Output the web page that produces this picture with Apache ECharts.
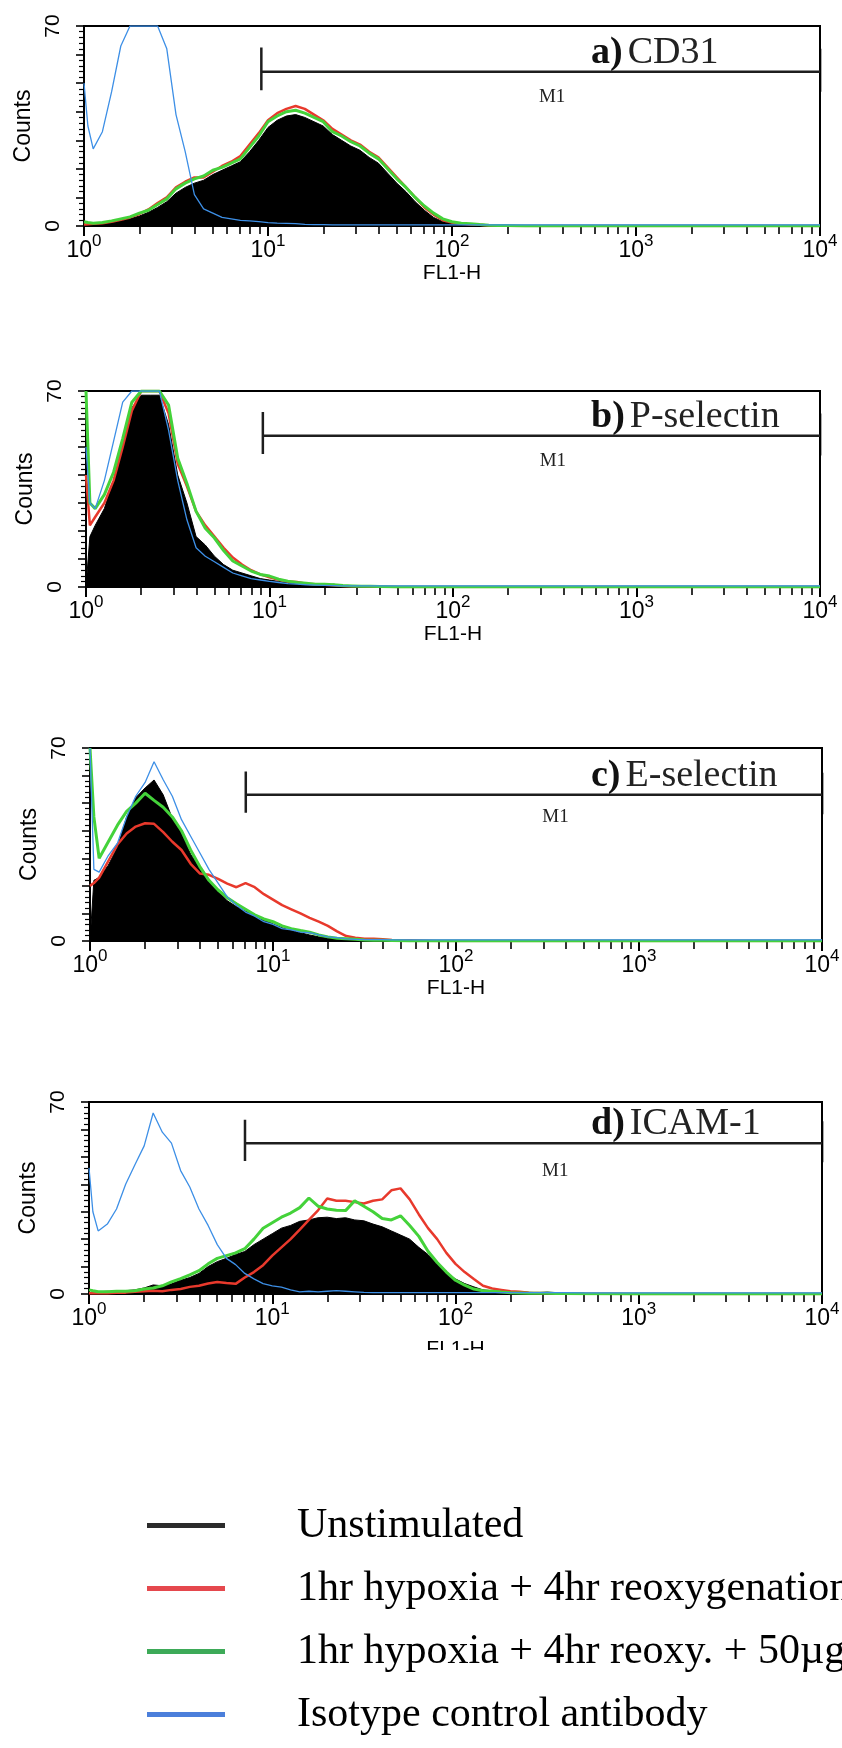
<!DOCTYPE html>
<html><head><meta charset="utf-8">
<script src="https://cdn.jsdelivr.net/npm/echarts@6/dist/echarts.min.js"></script>
<style>html,body{margin:0;padding:0;background:#fff;}#c{width:842px;height:1748px;}</style>
</head><body><div id="c"></div>
<script>
// ---------- DATA ----------
const bins = [1, 1.05, 1.122, 1.259, 1.413, 1.585, 1.778, 2, 2.239, 2.512,
  2.818, 3.162, 3.548, 3.981, 4.467, 5.012, 5.623, 6.31, 7.079, 7.943,
  8.913, 10, 11.22, 12.59, 14.13, 15.85, 17.78, 19.95, 22.39, 25.12,
  28.18, 31.62, 35.48, 39.81, 44.67, 50.12, 56.23, 63.1, 70.79, 79.43,
  89.13, 100, 112.2, 125.9, 141.3, 158.5, 177.8, 199.5, 223.9, 251.2,
  281.8, 316.2, 354.8, 398.1, 501.2, 1000, 3162, 10000];

const xTickValues = [1, 10, 100, 1000, 10000];
const xTickExponents = ['0', '1', '2', '3', '4'];
const xMinorTickValues = [2,3,4,5,6,7,8,9, 20,30,40,50,60,70,80,90, 200,300,400,500,600,700,800,900, 2000,3000,4000,5000,6000,7000,8000,9000];
const yTickLabels = [0, 70];

const seriesNames = ['Unstimulated', '1hr hypoxia + 4hr reoxygenation', '1hr hypoxia + 4hr reoxy. + 50µg', 'Isotype control antibody'];
const panelLetters = ['a)', 'b)', 'c)', 'd)'];
const panelMarkers = ['CD31', 'P-selectin', 'E-selectin', 'ICAM-1'];
const gateStart = [9.2, 9.2, 7.1, 7.1];
const gateEnd = 10000;
const gateEndBar = 10400;
const gateLevel = [54, 54, 53, 55];
const gateLabel = 'M1';
const gateLabelPos = [350, 45];

// Panel a) CD31
const aBlack = [0.3,0.4,0.5,0.8,1.2,1.8,2.5,3.5,4.8,6.5, 8.5,11.5,13.5,15,16,18,19.5,21,22.5,26, 30,34.5,37,38.5,39,38,36.5,35,32,30, 28,26.5,24,22,18.5,15,12,8.5,5.5,3, 1.5,1,0.6,0.4,0.3,0.2,0.2,0.1,0,0, 0,0,0,0,0,0,0,0];
const aRed   = [0.5,0.6,0.8,1,1.5,2.2,3,4.2,5.8,8, 10,13.5,15.5,17,17,19,21,22.5,24.5,28.5, 32.5,37,39.5,41,42,41,39,37,34,32, 30,28.5,26,24,20.5,17,13.5,10,6.5,4, 2,1.2,0.8,0.5,0.4,0.2,0.2,0.1,0,0, 0,0,0,0,0,0,0,0];
const aGreen = [1.5,1.2,1,1.2,1.8,2.5,3.2,4.5,5.5,7.5, 9.5,13,15,16.5,17.5,19.5,20.5,22,23.5,27.5, 31.5,36.5,38.5,40,40.5,39.5,38,36.5,33,31.5, 29.5,28,25.5,23.5,20,16.5,13.5,10,7,4.5, 2.5,1.5,1,0.8,0.5,0.3,0.2,0.2,0.1,0, 0,0,0,0,0,0,0,0];
const aBlue  = [50,35,27,33,47,63,70,70,70,70, 62,39,26,11,6,4.5,3,2.5,2,1.8, 1.5,1.2,1,0.9,0.8,0.6,0.5,0.5,0.4,0.4, 0.4,0.4,0.4,0.4,0.4,0.4,0.4,0.4,0.4,0.4, 0.4,0.4,0.4,0.4,0.4,0.4,0.4,0.4,0.4,0.4, 0.4,0.4,0.4,0.4,0.4,0.4,0.4,0.4];

// Panel b) P-selectin
const bBlack = [0,18,22,28,38,51,64,68.5,68.5,68.5, 58,40,30,18,15,11,8,6,5,4, 3,2.5,2,1.5,1.1,0.8,0.6,0.5,1,0.4, 0.3,0.2,0.1,0,0,0,0,0,0,0, 0,0,0,0,0,0,0,0,0,0, 0,0,0,0,0,0,0,0];
const bRed   = [40,22,25,30,38,50,63,70,70,70, 62,44,36,27,22,18,14,10.5,8,6, 4.5,3.5,2.6,2,1.8,1.2,1,0.8,0.6,0.4, 0.3,0.3,0.2,0.2,0.1,0,0,0,0,0, 0,0,0,0,0,0,0,0,0,0, 0,0,0,0,0,0,0,0];
const bGreen = [70,30,28,33,41,53,66,70,70,70, 65,46,37,27,21,17.5,13,9.3,7.5,5.7, 4.5,3.9,2.8,2.1,1.6,1.3,1,1,0.8,0.5, 0.4,0.3,0.3,0.2,0.1,0,0,0,0,0, 0,0,0,0,0,0,0,0,0,0, 0,0,0,0,0,0,0,0];
const bBlue  = [50,30,28,38,52,66,70,70,70,70, 56,38,24,14,11,9,7,5,4,3, 2.5,2,1.6,1.2,1,0.8,0.7,0.6,0.5,0.4, 0.4,0.4,0.4,0.4,0.4,0.4,0.4,0.4,0.4,0.4, 0.4,0.4,0.4,0.4,0.4,0.4,0.4,0.4,0.4,0.4, 0.4,0.4,0.4,0.4,0.4,0.4,0.4,0.4];

// Panel c) E-selectin
const cBlack = [0,22,23,27.5,34,45,52,55.5,58.4,53, 44.5,39,31.5,26.6,22,18,14.6,12.5,10.8,9.5, 7.8,6.2,4.8,3.8,3,2.2,1.5,1,0.8,0.5, 0.4,0.3,0.2,0.2,0.1,0,0,0,0,0, 0,0,0,0,0,0,0,0,0,0, 0,0,0,0,0,0,0,0];
const cRed   = [20,21,23,29,35,39,41.5,42.7,42.5,39.5, 36,33,28,24.5,24,22.5,20.8,19.5,21,19.5, 17,15,13,11.5,10,8.4,7,5.5,3.5,1.8, 1.2,0.8,0.8,0.6,0.4,0.3,0.3,0.2,0.1,0, 0,0,0,0,0,0,0,0,0,0, 0,0,0,0,0,0,0,0];
const cGreen = [70,45,30,36,42,47,50,53.6,51,48.5, 45,40,33,27,22,18.5,15.7,13.5,11.5,9.5, 8,7,5.5,4.5,3.8,3.2,2.2,1.5,1,0.8, 0.6,0.4,0.3,0.3,0.2,0.1,0,0,0,0, 0,0,0,0,0,0,0,0,0,0, 0,0,0,0,0,0,0,0];
const cBlue  = [70,26,25,31,35.5,45,52.5,57.5,65,58.5, 52.5,44,38,32,26,21,16,13,10.5,9, 7,6,4.5,4,3.2,3,2.2,1.5,1.2,0.8, 0.6,0.5,0.5,0.5,0.4,0.4,0.4,0.4,0.4,0.4, 0.4,0.4,0.4,0.4,0.4,0.4,0.4,0.4,0.4,0.4, 0.4,0.4,0.4,0.4,0.4,0.4,0.4,0.4];

// Panel d) ICAM-1
const dBlack = [0.5,0.6,0.8,1,0.8,1.2,1.5,2.2,3.3,3, 3.7,5,6,7.5,10,11.8,13,14.4,15.5,18, 20,22,24,25,26.5,27,27.8,28,27.5,27.8, 27,26.7,25.5,24.5,23,21.5,20,17,14.4,11, 7.5,5.5,3.8,2.6,1.5,1.2,1,0.8,0.8,0.6, 0.5,0.7,0.5,0.3,0.2,0,0,0];
const dRed   = [0.3,0.3,0.3,0.3,0.5,0.5,0.8,1,1.2,1, 1.5,1.8,2.6,3,3.8,4.4,4,3.7,6,8, 10.5,14,17,20,23.5,27,30.5,34.8,34,34, 33.5,33,34,34.5,37.8,38.5,34.5,29,24,20, 15,11,8,5.5,3,2,1.5,1,0.8,0.5, 0.4,0.3,0.3,0.3,0.2,0,0,0];
const dGreen = [1.5,1.2,0.8,0.8,1,1,1.2,1.8,2.2,3, 4.4,5.6,7,8.5,11,13,14,15,16.5,20, 24,26,28,29.5,31.5,35,32,31,30.5,30.4, 34,32,30,27.5,27,28.5,25,21,15.6,11.5, 8,5,3.2,1.8,1.2,1,0.7,0.5,0.4,0.3, 0.3,0.3,0.2,0.2,0.1,0,0,0];
const dBlue  = [46,30,23,25.5,31,40,47,54,66,59, 55,45,39,31,25,18,13,10.7,7.5,5.5, 3.8,3,2.5,1.5,0.8,1,0.8,1,1.2,1, 0.8,0.6,0.5,0.5,0.5,0.5,0.5,0.5,0.5,0.5, 0.5,0.5,0.5,0.5,0.5,0.5,0.5,0.5,0.5,0.5, 0.5,0.5,0.5,0.5,0.4,0.4,0.4,0.4];

const panelData = [
  [aBlack, aRed, aGreen, aBlue],
  [bBlack, bRed, bGreen, bBlue],
  [cBlack, cRed, cGreen, cBlue],
  [dBlack, dRed, dGreen, dBlue]
];

// ---------- LAYOUT / STYLE ----------
const layout = [
  {left: 84, right: 22, top: 26, height: 200, nameGap: 37},
  {left: 86, right: 22, top: 391, height: 196, nameGap: 37},
  {left: 90, right: 20, top: 748, height: 193, nameGap: 37},
  {left: 89, right: 20, top: 1102, height: 192, nameGap: 45}
];
const lineColors = ['#000000', '#e8392c', '#44d23a', '#3d8fe6'];
const lineWidths = [1, 2.5, 3, 1.3];
const legendColors = ['#2b2b2b', '#e5484d', '#3daa58', '#4b7fdb'];
const SANS = 'Liberation Sans, Arial, sans-serif';
const SERIF = 'Liberation Serif, Times New Roman, serif';

const grids = [], xAxes = [], yAxes = [], series = [], titles = [];

function gateSeries(i, data, extra) {
  return Object.assign({
    name: 'gate', type: 'line', xAxisIndex: 2 * i, yAxisIndex: i, data: data,
    symbol: 'none', silent: true, animation: false, clip: false, z: 10,
    lineStyle: {color: '#1e1e1e', width: 2.5}
  }, extra || {});
}

layout.forEach((L, i) => {
  grids.push({left: L.left, right: L.right, top: L.top, height: L.height,
    show: true, borderColor: '#000', borderWidth: 2, backgroundColor: 'transparent',
    containLabel: false, outerBoundsMode: 'none'});
  xAxes.push({
    gridIndex: i, type: 'log', logBase: 10, min: 1, max: 10000, position: 'bottom',
    axisLine: {show: true, lineStyle: {color: '#000', width: 2}},
    axisTick: {show: true, length: 10, lineStyle: {color: '#000', width: 2}, customValues: xTickValues},
    axisLabel: {
      customValues: xTickValues, margin: 7, color: '#000',
      formatter: (v) => '{b|10}{s|' + xTickExponents[xTickValues.indexOf(v)] + '}',
      rich: {
        b: {fontFamily: SANS, fontSize: 23, color: '#000', lineHeight: 29, verticalAlign: 'bottom'},
        s: {fontFamily: SANS, fontSize: 17, color: '#000', lineHeight: 16, verticalAlign: 'top'}
      }
    },
    splitLine: {show: false},
    name: 'FL1-H', nameLocation: 'middle', nameGap: L.nameGap,
    nameTextStyle: {fontFamily: SANS, fontSize: 21, color: '#000'}
  });
  xAxes.push({
    gridIndex: i, type: 'log', logBase: 10, min: 1, max: 10000, position: 'bottom', offset: 0,
    axisLine: {show: false},
    axisTick: {show: true, length: 8, lineStyle: {color: '#000', width: 1.6}, customValues: xMinorTickValues},
    axisLabel: {show: false}, splitLine: {show: false}
  });
  yAxes.push({
    gridIndex: i, type: 'value', min: 0, max: 70, interval: 10,
    axisLine: {show: true, lineStyle: {color: '#000', width: 2}},
    axisTick: {show: true, length: 8, lineStyle: {color: '#000', width: 1.6}},
    minorTick: {show: true, splitNumber: 5, length: 5, lineStyle: {color: '#000', width: 1.2}},
    axisLabel: {rotate: 90, margin: 20, color: '#000', fontFamily: SANS, fontSize: 21,
      formatter: (v) => yTickLabels.indexOf(v) >= 0 ? String(v) : ''},
    splitLine: {show: false},
    name: 'Counts', nameLocation: 'middle', nameGap: 47, nameRotate: 90,
    nameTextStyle: {fontFamily: SANS, fontSize: 23, color: '#000'}
  });

  const vals = panelData[i];
  vals.forEach((arr, k) => {
    const s = {
      name: seriesNames[k], type: 'line', xAxisIndex: 2 * i, yAxisIndex: i,
      data: bins.map((b, j) => [b, arr[j]]),
      symbol: 'none', silent: true, animation: false,
      lineStyle: {color: lineColors[k], width: lineWidths[k]},
      itemStyle: {color: lineColors[k]},
      z: 2 + k
    };
    if (k === 0) s.areaStyle = {color: '#000', opacity: 1};
    series.push(s);
  });

  const lvl = gateLevel[i];
  series.push(gateSeries(i, [[gateStart[i], lvl], [gateEnd, lvl]], {
    markPoint: {
      symbol: 'circle', symbolSize: 1, silent: true, animation: false,
      itemStyle: {color: 'rgba(0,0,0,0)'},
      label: {show: true, position: 'inside', formatter: gateLabel, fontFamily: SERIF, fontSize: 19, color: '#222'},
      data: [{coord: gateLabelPos}]
    }
  }));
  series.push(gateSeries(i, [[gateStart[i], lvl - 6.5], [gateStart[i], lvl + 8.5]]));
  series.push(gateSeries(i, [[gateEndBar, lvl - 7], [gateEndBar, lvl + 8]], {lineStyle: {color: '#1e1e1e', width: 3}}));

  const m1px = L.top + L.height * (1 - lvl / 70);
  titles.push({
    text: '{b|' + panelLetters[i] + '} {n|' + panelMarkers[i] + '}',
    left: 591, top: m1px - 6 - 33, padding: 0,
    textStyle: {
      rich: {
        b: {fontFamily: SERIF, fontWeight: 'bold', fontSize: 38, lineHeight: 40, color: '#111'},
        n: {fontFamily: SERIF, fontWeight: 'normal', fontSize: 38, lineHeight: 40, color: '#222'}
      }
    }
  });
});

const option = {
  backgroundColor: '#fff',
  animation: false,
  title: titles,
  grid: grids,
  xAxis: xAxes,
  yAxis: yAxes,
  series: series,
  legend: {
    orient: 'vertical', left: 147, top: 1494, height: 254, padding: 0,
    itemWidth: 78, itemHeight: 5, itemGap: 0, icon: 'rect', selectedMode: false,
    data: seriesNames.map((n, k) => ({name: n, itemStyle: {color: legendColors[k]}})),
    textStyle: {fontFamily: SERIF, fontSize: 42, color: '#000', lineHeight: 42, padding: [21, 0, 0, 67]}
  },
  graphic: [{
    type: 'rect', z: 100, silent: true,
    shape: {x: 0, y: 1350, width: 842, height: 80},
    style: {fill: '#fff'}
  }]
};

const chart = echarts.init(document.getElementById('c'), null, {renderer: 'canvas'});
chart.setOption(option);
</script>
</body></html>
